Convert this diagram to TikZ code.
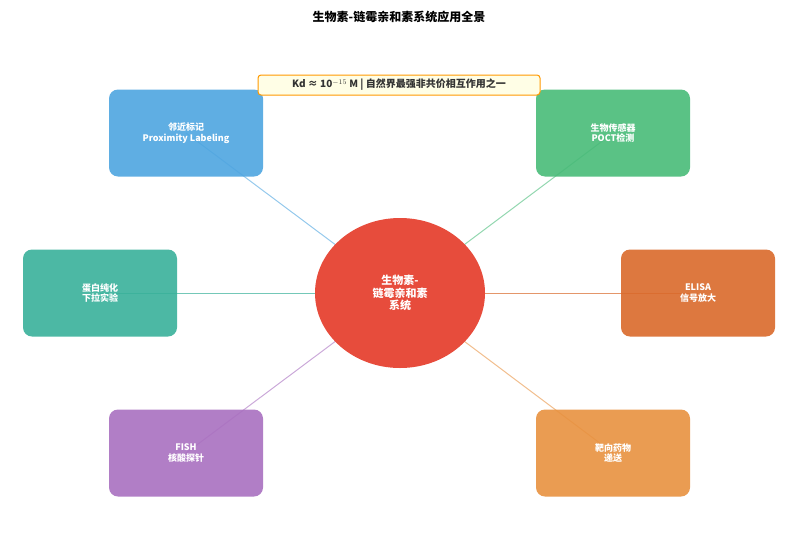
\documentclass[tikz,border=0pt]{standalone}
\usepackage{fontspec}
\setmainfont{Noto Sans CJK SC}
\usetikzlibrary{shapes.geometric}
\begin{document}
\begin{tikzpicture}[x=1pt,y=-1pt,
 box/.style={rounded corners=9pt,minimum width=154pt,minimum height=87pt,fill opacity=0.9,text opacity=1,text=white,font=\bfseries\fontsize{9}{10.5}\selectfont,align=center},
 ln/.style={line width=1pt}]
\useasboundingbox (0,0) rectangle (799,557);
\definecolor{cb}{HTML}{4EA5E0}\definecolor{cg}{HTML}{48BB78}\definecolor{ct}{HTML}{38B09A}
\definecolor{co}{HTML}{D9692A}\definecolor{cp}{HTML}{A970C0}\definecolor{cy}{HTML}{E8913F}
\definecolor{cr}{HTML}{E74C3C}
\node[font=\bfseries\fontsize{12}{14}\selectfont] (t) at (399,17) {生物素-链霉亲和素系统应用全景};
\coordinate (c) at (400,293);
\draw[ln,cb!60] (c) -- (186,133);
\draw[ln,cg!60] (c) -- (613,133);
\draw[ln,ct!70] (c) -- (100,293);
\draw[ln,co!70] (c) -- (698,293);
\draw[ln,cp!60] (c) -- (186,453);
\draw[ln,cy!60] (c) -- (613,453);
\node[box,fill=cb] (a) at (186,133) {邻近标记\\Proximity Labeling};
\node[box,fill=cg] (b) at (613,133) {生物传感器\\POCT检测};
\node[box,fill=ct] (d) at (100,293) {蛋白纯化\\下拉实验};
\node[box,fill=co] (e) at (698,293) {ELISA\\信号放大};
\node[box,fill=cp] (f) at (186,453) {FISH\\核酸探针};
\node[box,fill=cy] (g) at (613,453) {靶向药物\\递送};
\node[ellipse,fill=cr,minimum width=170pt,minimum height=150pt,text=white,align=center,font=\bfseries\fontsize{11}{12.5}\selectfont] (m) at (c) {生物素-\\链霉亲和素\\系统};
\node[rounded corners=3pt,fill=yellow!10,draw=orange!80!yellow,line width=1pt,minimum width=282pt,minimum height=20pt,inner sep=2pt,font=\bfseries\fontsize{10}{12}\selectfont,text=black!80] (k) at (399,85) {Kd ≈ 10$^{-15}$ M | 自然界最强非共价相互作用之一};
\end{tikzpicture}
\end{document}
